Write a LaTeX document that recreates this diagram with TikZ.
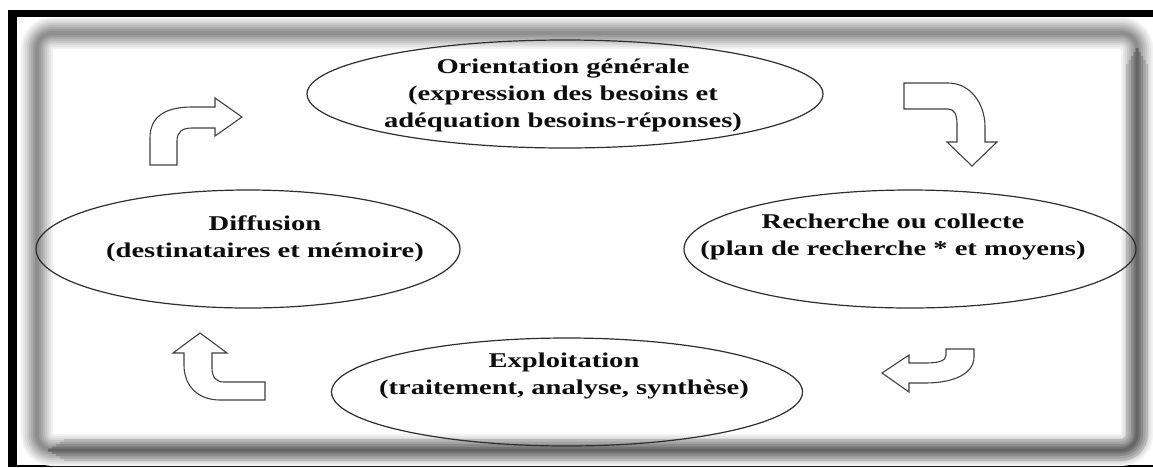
\documentclass[tikz,border=0pt]{standalone}
\usepackage{fontspec}
\setmainfont{Liberation Serif}[FakeStretch=1.36]
\usetikzlibrary{shapes.geometric}
\begin{document}
\begin{tikzpicture}[x=1pt,y=-1pt,
  phase/.style={ellipse, draw=black!82, line width=1.2pt, inner sep=0pt},
  phasetext/.style={align=center, inner sep=0pt, text=black!95,
    font=\bfseries\fontsize{21}{27}\selectfont},
  turnarrow/.style={draw=black!75, fill=white, line width=1.1pt, line join=miter},
  bevel/.style={rounded corners=16pt}
]
\useasboundingbox (0,0) rectangle (1153,467);
\fill[white] (0,0) rectangle (1153,467);

% outer black frame (top bar, left bar, bottom rule)
\fill[black] (8,10) rectangle (1153,17);
\fill[black] (8,10) rectangle (17,467);
\fill[black] (17,465.3) rectangle (1153,467);

% soft bevelled panel border, built up from layered strokes
\foreach \w/\c in {32/5, 28/10, 24/15, 20/21, 16/27, 12/33, 8/39, 4/44}
  \draw[bevel, line width=\w pt, black!\c] (37,33) rectangle (1137,450);
% darker shading on the right and bottom sides
\foreach \w/\c/\s in {22/28/64, 17/36/60, 12/45/56, 7/54/52, 3/60/48}
  \draw[bevel, line width=\w pt, black!\c] (1137,\s) -- (1137,450) -- (\s,450);

% the four phases
\node[phase, minimum width=516pt, minimum height=108pt] (orient) at (565,94) {};
\node[phase, minimum width=424pt, minimum height=118pt] (diff)   at (248,249) {};
\node[phase, minimum width=452pt, minimum height=118pt] (rech)   at (910,249) {};
\node[phase, minimum width=471pt, minimum height=108pt] (expl)   at (567,392) {};

\node[phasetext] (orient-t) at (563,95.5)
  {Orientation générale\\(expression des besoins et\\adéquation besoins-réponses)};
\node[phasetext] (diff-t) at (265,239)
  {Diffusion\\(destinataires et mémoire)};
\node[phasetext] (rech-t) at (893,237)
  {Recherche ou collecte\\(plan de recherche * et moyens)};
\node[phasetext] (expl-t) at (564,376)
  {Exploitation\\(traitement, analyse, synthèse)};

% bent block arrows between the phases
\draw[turnarrow] (150,165) -- (150,138)
  .. controls (150,116) and (166,107) .. (192,107) -- (215,107) -- (215,98)
  -- (242,117) -- (215,136) -- (215,128) -- (192,128)
  .. controls (182,128) and (177,132) .. (177,141) -- (177,165) -- cycle;

\draw[turnarrow] (904,83) -- (948,83)
  .. controls (970,83) and (985,103) .. (985,127) -- (985,142) -- (997,142)
  -- (972,166) -- (947,142) -- (957,142) -- (957,124)
  .. controls (957,114) and (954,109) .. (948,109) -- (904,109) -- cycle;

\draw[turnarrow] (946,349) -- (974,349) -- (974,357)
  .. controls (974,373) and (955,383) .. (925,383) -- (909,383) -- (909,392)
  -- (882,373) -- (909,355) -- (909,363) -- (926,363)
  .. controls (938,363) and (946,361) .. (946,355) -- cycle;

\draw[turnarrow] (200,333) -- (227,353) -- (212,353) -- (212,368)
  .. controls (212,377) and (216,382) .. (224,382) -- (265,382) -- (265,400)
  -- (220,400) .. controls (198,400) and (184,386) .. (184,365)
  -- (184,353) -- (173,353) -- cycle;
\end{tikzpicture}
\end{document}
